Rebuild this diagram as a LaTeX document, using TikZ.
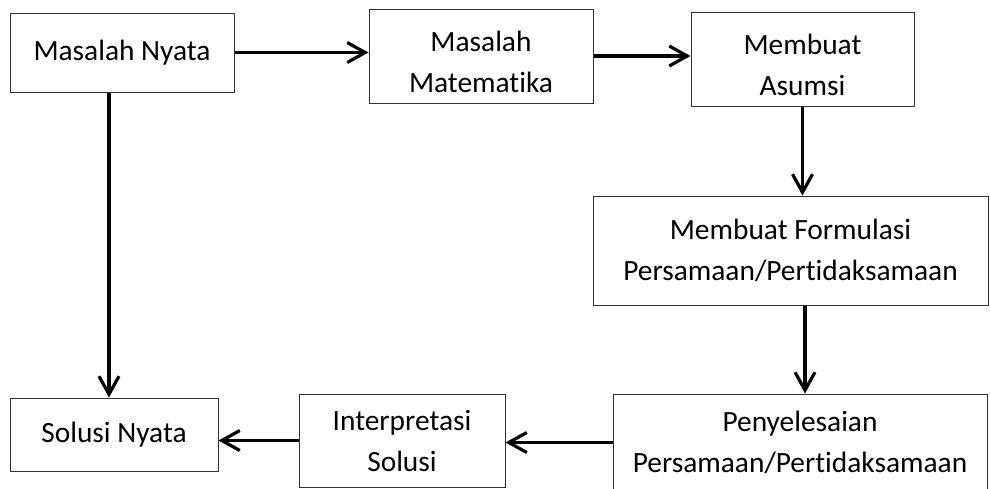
\documentclass[tikz,border=0pt]{standalone}
\usepackage{fontspec}
\setmainfont{Carlito}[RawFeature={-liga}]
\usetikzlibrary{arrows.meta}
\newcommand{\lowstrut}{\rule{0pt}{16pt}}
\begin{document}
\begin{tikzpicture}[x=0.5pt,y=-0.5pt,
  box/.style={draw=black!80, line width=0.5pt, fill=white, align=center, inner sep=0pt,
    font=\fontsize{14.7}{20.5}\selectfont},
  conn/.style={line width=1.6pt, -{Straight Barb[length=9pt,width=10pt,line width=1.6pt]}}]
\useasboundingbox (0,0) rectangle (990,488);
\node[box, minimum width=112pt, minimum height=39.5pt] (nyata) at (122,52.5) {Masalah Nyata};
\node[box, minimum width=112pt, minimum height=47pt] (mat) at (481,56) {\lowstrut Masalah\\Matematika};
\node[box, minimum width=111.5pt, minimum height=47pt] (asumsi) at (802.5,59) {\lowstrut Membuat\\Asumsi};
\node[box, minimum width=197.5pt, minimum height=54.5pt] (formula) at (790.5,250.5) {Membuat Formulasi\\Persamaan/Pertidaksamaan};
\node[box, minimum width=187pt, minimum height=48.5pt] (selesai) at (800,442.5) {Penyelesaian\\Persamaan/Pertidaksamaan};
\node[box, minimum width=103pt, minimum height=46.5pt] (interp) at (402,440.5) {Interpretasi\\Solusi};
\node[box, minimum width=104pt, minimum height=36.5pt] (solusi) at (114,434.5) {Solusi Nyata};
\coordinate (downA) at (109,0);
\coordinate (downB) at (805,0);
\draw[conn] (nyata.east) -- (nyata.east -| mat.west);
\draw[conn] (mat.east) -- (mat.east -| asumsi.west);
\draw[conn] (asumsi.south) -- (asumsi.south |- formula.north);
\draw[conn] (downB |- formula.south) -- (downB |- selesai.north);
\draw[conn] (selesai.west) -- (selesai.west -| interp.east);
\draw[conn] (interp.west) -- (interp.west -| solusi.east);
\draw[conn] (downA |- nyata.south) -- (downA |- solusi.north);
\end{tikzpicture}
\end{document}
